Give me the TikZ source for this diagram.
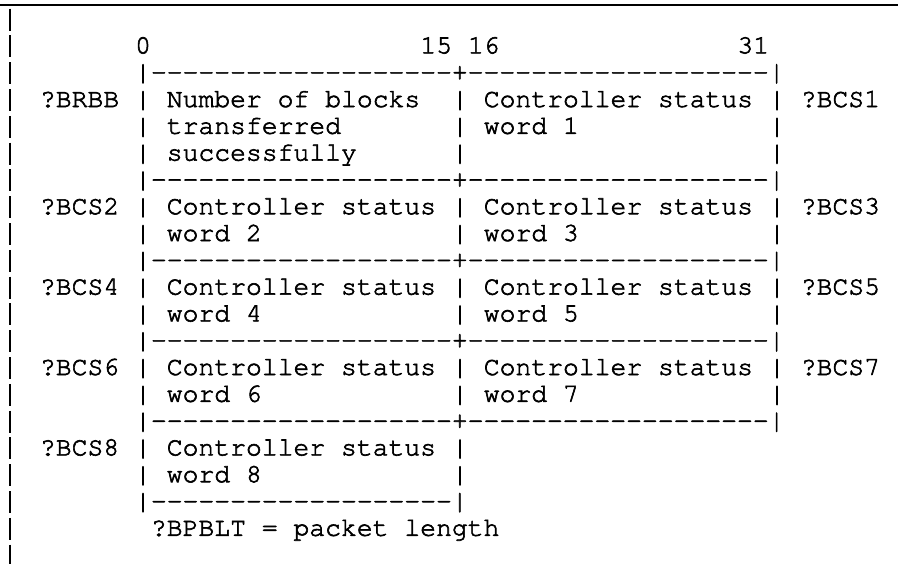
\documentclass[tikz,border=0pt]{standalone}
\usepackage[T1]{fontenc}
\renewcommand\ttdefault{pcr}

% character grid of the typewriter layout (1 unit = 1pt, y grows downward)
\newcommand\colx{8.3}   % left edge of column 0
\newcommand\colw{15.85} % width of one character cell
\newcommand\rowy{26.6}  % baseline of row 0
\newcommand\rowh{26.8}  % line pitch

% slightly heavier glyphs: fill and stroke the outlines
\newcommand\heavyink{\special{pdf:literal direct 2 Tr 0.6 w}}

\tikzset{
  tt/.style={font=\fontsize{26.4}{26.4}\selectfont\ttfamily\heavyink,
    inner sep=0pt, outer sep=0pt, anchor=base west},
  rule/.style={line width=1.8pt},
  changebar/.style={line width=1.8pt}
}

% \cell{name}{column}{row}{text}
\newcommand\cell[4]{\node[tt] (#1) at ({\colx+#2*\colw},{\rowy+#3*\rowh}) {#4};}

% runs of separate hyphens (no dash ligatures)
\newcommand\dashrun{-{}-{}-{}-{}-{}-{}-{}-{}-{}-{}-{}-{}-{}-{}-{}-{}-{}-{}-{}}
\newcommand\sepfull{|\dashrun+\dashrun|}
\newcommand\sephalf{|\dashrun|}

\begin{document}
\begin{tikzpicture}[x=1pt,y=-1pt]
\useasboundingbox (0,0) rectangle (898,563);

% rule across the top
\draw[rule] (0,5) -- (898,5);

% change bar in the margin, one stroke per line
\foreach \r in {0,...,20} {
  \coordinate (cbt\r) at (10,{\rowy-7+\r*\rowh-11});
  \coordinate (cbb\r) at (10,{\rowy-7+\r*\rowh+11});
  \draw[changebar] (cbt\r) -- (cbb\r);
}

% bit numbers
\cell{b0}{8}{1}{0}
\cell{b15}{26}{1}{15}
\cell{b16}{29}{1}{16}
\cell{b31}{46}{1}{31}

% horizontal separators
\foreach \r in {2,6,9,12,15} {
  \cell{sep\r}{8}{\r}{\sepfull}
}
\cell{sep18}{8}{18}{\sephalf}

% vertical bars of the two-column rows
\foreach \r in {3,4,5,7,8,10,11,13,14} {
  \cell{vl\r}{8}{\r}{|}
  \cell{vm\r}{28}{\r}{|}
  \cell{vr\r}{48}{\r}{|}
}
\cell{vl16}{8}{16}{|}
\cell{vm16}{28}{16}{|}
\cell{vl17}{8}{17}{|}
\cell{vm17}{28}{17}{|}

% first word
\cell{nBRBB}{2}{3}{?BRBB}
\cell{t3a}{10}{3}{Number of blocks}
\cell{t4a}{10}{4}{transferred}
\cell{t5a}{10}{5}{successfully}
\cell{t3b}{30}{3}{Controller status}
\cell{t4b}{30}{4}{word 1}
\cell{nBCS1}{50}{3}{?BCS1}

% controller status words 2 to 7
\cell{nBCS2}{2}{7}{?BCS2}
\cell{t7a}{10}{7}{Controller status}
\cell{t8a}{10}{8}{word 2}
\cell{t7b}{30}{7}{Controller status}
\cell{t8b}{30}{8}{word 3}
\cell{nBCS3}{50}{7}{?BCS3}

\cell{nBCS4}{2}{10}{?BCS4}
\cell{t10a}{10}{10}{Controller status}
\cell{t11a}{10}{11}{word 4}
\cell{t10b}{30}{10}{Controller status}
\cell{t11b}{30}{11}{word 5}
\cell{nBCS5}{50}{10}{?BCS5}

\cell{nBCS6}{2}{13}{?BCS6}
\cell{t13a}{10}{13}{Controller status}
\cell{t14a}{10}{14}{word 6}
\cell{t13b}{30}{13}{Controller status}
\cell{t14b}{30}{14}{word 7}
\cell{nBCS7}{50}{13}{?BCS7}

% controller status word 8
\cell{nBCS8}{2}{16}{?BCS8}
\cell{t16a}{10}{16}{Controller status}
\cell{t17a}{10}{17}{word 8}

% packet length note
\cell{note}{9}{19}{?BPBLT = packet length}
\end{tikzpicture}
\end{document}
